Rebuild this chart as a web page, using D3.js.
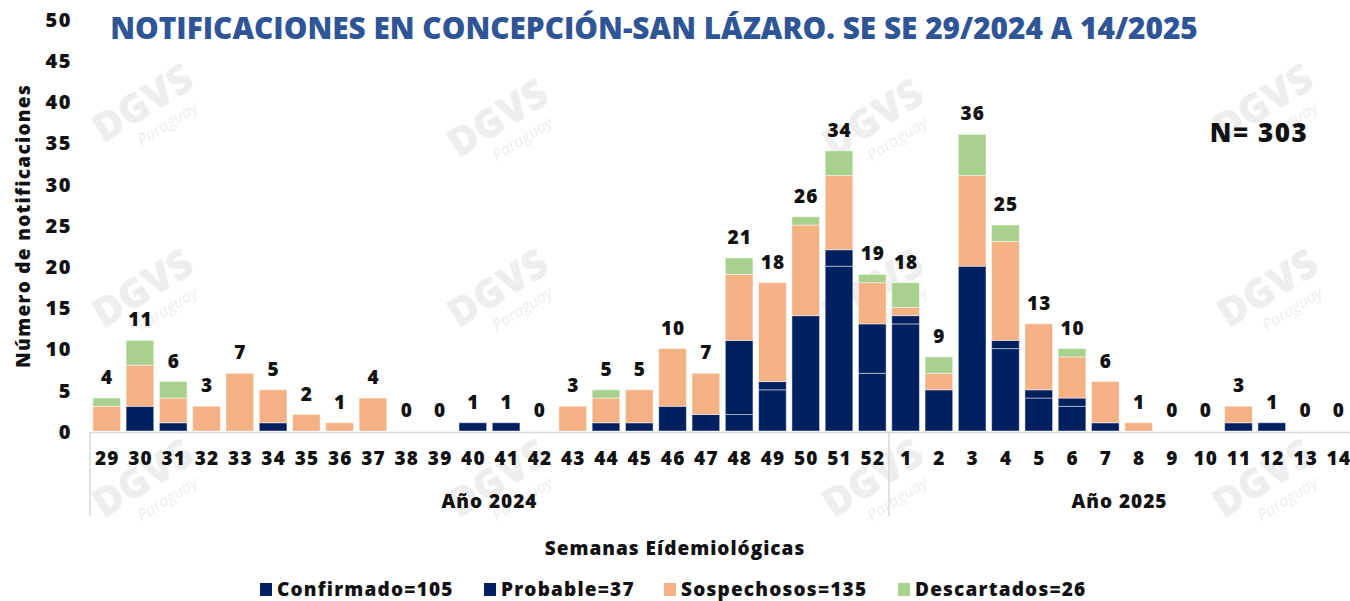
<!DOCTYPE html>
<html>
<head>
<meta charset="utf-8">
<script src="https://cdn.jsdelivr.net/npm/d3@7"></script>
<style>
  body { margin: 0; background: #fff; }
  svg { display: block; font-family: "Open Sans", "DejaVu Sans", sans-serif; font-weight: 700; }
</style>
</head>
<body>
<div id="chart"></div>
<script>
// semanas epidemiologicas (29/2024 .. 14/2025)
var semanas = ['29','30','31','32','33','34','35','36','37','38','39','40','41','42','43','44','45','46','47','48','49','50','51','52',
               '1','2','3','4','5','6','7','8','9','10','11','12','13','14'];
var anios = ['2024','2024','2024','2024','2024','2024','2024','2024','2024','2024','2024','2024','2024','2024','2024','2024','2024','2024','2024','2024','2024','2024','2024','2024',
             '2025','2025','2025','2025','2025','2025','2025','2025','2025','2025','2025','2025','2025','2025'];

var confirmado  = [0,3,1,0,0,1,0,0,0,0,0,1,1,0,0,1,1,3,2,2,5,14,20,7, 13,5,20,10,4,3,1,0,0,0,1,1,0,0];
var probable    = [0,0,0,0,0,0,0,0,0,0,0,0,0,0,0,0,0,0,0,9,1,0,2,6, 1,0,0,1,1,1,0,0,0,0,0,0,0,0];
var sospechosos = [3,5,3,3,7,4,2,1,4,0,0,0,0,0,3,3,4,7,5,8,12,11,9,5, 1,2,11,12,8,5,5,1,0,0,2,0,0,0];
var descartados = [1,3,2,0,0,0,0,0,0,0,0,0,0,0,0,1,0,0,0,2,0,1,3,1, 3,2,5,2,0,1,0,0,0,0,0,0,0,0];

var series = ['Confirmado', 'Probable', 'Sospechosos', 'Descartados'];
var leyenda = ['Confirmado=105', 'Probable=37', 'Sospechosos=135', 'Descartados=26'];
var yTicks = [0,5,10,15,20,25,30,35,40,45,50];

var colors = {Confirmado: '#002060', Probable: '#002060', Sospechosos: '#F4B183', Descartados: '#A9D18E'};

var W = 1350, H = 601;
var svg = d3.select('#chart').append('svg').attr('width', W).attr('height', H);

// marcas de agua
var wm = svg.append('g').attr('fill', '#eeeeee');
[[150,115],[150,300],[505,130],[505,300],[880,130],[880,300],[1270,115],[1275,300],[150,490],[505,490],[880,490],[1270,490]].forEach(function (p) {
  var g = wm.append('g').attr('transform', 'translate(' + p[0] + ',' + p[1] + ') rotate(-32)');
  g.append('text').attr('text-anchor', 'middle').attr('font-size', 40).attr('font-weight', 800).text('DGVS');
  g.append('text').attr('text-anchor', 'middle').attr('y', 22).attr('x', 10).attr('font-size', 16)
    .attr('font-style', 'italic').attr('font-weight', 400).text('Paraguay');
});

var x = d3.scaleBand().domain(d3.range(semanas.length)).range([90, 1355]).paddingInner(0.17).paddingOuter(0.085);
var y = d3.scaleLinear().domain([0, 50]).range([431, 19]);

var rows = semanas.map(function (s, i) {
  return {i: i, Confirmado: confirmado[i], Probable: probable[i], Sospechosos: sospechosos[i], Descartados: descartados[i]};
});
var stack = d3.stack().keys(series)(rows);

svg.append('g').selectAll('g').data(stack).enter().append('g')
  .attr('fill', function (d) { return colors[d.key]; })
  .selectAll('rect').data(function (d) { return d; }).enter().append('rect')
  .filter(function (d) { return d[1] > d[0]; })
  .attr('x', function (d) { return x(d.data.i); })
  .attr('width', x.bandwidth())
  .attr('y', function (d) { return y(d[1]); })
  .attr('height', function (d) { return y(d[0]) - y(d[1]); })
  .attr('stroke', 'rgba(255,255,255,0.45)')
  .attr('stroke-width', 1);

// totales
svg.append('g').selectAll('text').data(rows).enter().append('text')
  .attr('x', function (d) { return x(d.i) + x.bandwidth() / 2 + 0.5; })
  .attr('y', function (d) { return y(d.Confirmado + d.Probable + d.Sospechosos + d.Descartados) - 14; })
  .attr('text-anchor', 'middle').attr('font-size', 19).attr('font-weight', 800).attr('fill', '#111')
  .attr('letter-spacing', 1)
  .text(function (d) { return d.Confirmado + d.Probable + d.Sospechosos + d.Descartados; });

// eje y
var yAxis = svg.append('g').attr('transform', 'translate(72,0)')
  .call(d3.axisLeft(y).tickValues(yTicks).tickSize(0).tickPadding(0));
yAxis.select('.domain').remove();
yAxis.selectAll('text').attr('font-size', 20).attr('font-weight', 800).attr('fill', '#111')
  .attr('font-family', '"Open Sans", sans-serif').attr('dy', '0.36em').attr('letter-spacing', 1.5);

// eje x
var xAxis = svg.append('g').attr('transform', 'translate(0,432)')
  .call(d3.axisBottom(x).tickFormat(function (i) { return semanas[i]; }).tickSize(0).tickPadding(20));
xAxis.select('.domain').attr('stroke', '#d9d9d9').attr('stroke-width', 1.5);
xAxis.selectAll('text').attr('font-size', 19).attr('font-weight', 800).attr('fill', '#111')
  .attr('font-family', '"Open Sans", sans-serif').attr('letter-spacing', 1.2).attr('dx', 0.6);

// grupos de anio
var grupos = d3.groups(rows, function (d) { return anios[d.i]; });
var lineas = svg.append('g').attr('stroke', '#d9d9d9').attr('stroke-width', 1.5);
grupos.forEach(function (g) {
  var first = g[1][0].i, last = g[1][g[1].length - 1].i;
  var x0 = x(first) - x.step() * x.paddingInner() / 2;
  var x1 = x(last) + x.bandwidth() + x.step() * x.paddingInner() / 2;
  if (first === 0) x0 = 90;
  lineas.append('line').attr('x1', x0).attr('x2', x0).attr('y1', 432).attr('y2', 516);
  svg.append('text').attr('x', (x0 + Math.min(x1, W)) / 2).attr('y', 508)
    .attr('text-anchor', 'middle').attr('font-size', 19).attr('font-weight', 800).attr('fill', '#111')
    .attr('letter-spacing', 1)
    .text('Año ' + g[0]);
});

// titulos
var title = svg.append('text').attr('x', 654).attr('y', 39).attr('text-anchor', 'middle')
  .attr('font-size', 25).attr('font-weight', 800).attr('fill', '#2F5597')
  .text('NOTIFICACIONES EN CONCEPCIÓN-SAN LÁZARO. SE SE 29/2024 A 14/2025');
var tl = title.node().getComputedTextLength();
title.attr('font-size', 25 * 1088 / tl);

svg.append('text').attr('x', 1259).attr('y', 142).attr('text-anchor', 'middle')
  .attr('font-size', 26).attr('font-weight', 800).attr('fill', '#111').attr('letter-spacing', 1.5).text('N= 303');

svg.append('text').attr('transform', 'translate(30,226) rotate(-90)').attr('text-anchor', 'middle')
  .attr('font-size', 19).attr('font-weight', 800).attr('fill', '#111').attr('letter-spacing', 1.3)
  .text('Número de notificaciones');

svg.append('text').attr('x', 675).attr('y', 555).attr('text-anchor', 'middle')
  .attr('font-size', 19).attr('font-weight', 800).attr('fill', '#111').attr('letter-spacing', 1)
  .text('Semanas Eídemiológicas');

// leyenda
var legX = [260, 484, 664, 898];
var leg = svg.append('g').selectAll('g').data(series).enter().append('g')
  .attr('transform', function (d, i) { return 'translate(' + legX[i] + ',582)'; });
leg.append('rect').attr('width', 12).attr('height', 13).attr('y', 1)
  .attr('fill', function (d) { return colors[d]; });
leg.append('text').attr('x', 17).attr('y', 14).attr('font-size', 19).attr('font-weight', 800).attr('fill', '#111')
  .attr('letter-spacing', 1.2)
  .text(function (d, i) { return leyenda[i]; });
</script>
</body>
</html>
